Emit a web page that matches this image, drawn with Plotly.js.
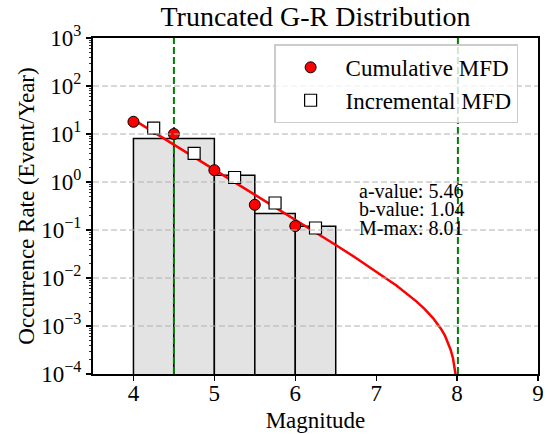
<!DOCTYPE html>
<html>
<head>
<meta charset="utf-8">
<script src="https://cdn.plot.ly/plotly-3.0.1.min.js"></script>
<style>html,body{margin:0;padding:0;background:#fff;}#chart{width:550px;height:434px;}</style>
</head>
<body>
<div id="chart"></div>
<script>
// ---- data ----
const binCenters = [4.25, 4.75, 5.25, 5.75, 6.25];
const binRates = [8.1, 8.1, 1.38, 0.22, 0.12];

const cumMag = [4.0, 4.5, 5.0, 5.5, 6.0];
const cumRate = [18.0, 10.0, 1.76, 0.335, 0.121];

const incMag = [4.25, 4.75, 5.25, 5.75, 6.25];
const incRate = [13.3, 3.95, 1.24, 0.365, 0.11];

const curveMag = [4.0, 4.25, 4.5, 4.75, 5.0, 5.25, 5.5, 5.75, 6.0, 6.25, 6.5, 6.75, 7.0, 7.25, 7.5, 7.6, 7.7, 7.8, 7.85, 7.9, 7.92, 7.95, 7.96, 7.98, 8.0];
const curveRate = [19.95, 10.96, 6.03, 3.31, 1.82, 1.0, 0.548, 0.301, 0.165, 0.090, 0.0488, 0.0262, 0.0138, 0.00697, 0.00322, 0.00225, 0.00148, 0.00088, 0.00063, 0.00041, 0.00032, 0.00021, 0.00017, 0.0001, 0.00003];

const magComplete = 4.5;
const magMax = 8.01;
const paramLabels = ["a-value: 5.46", "b-value: 1.04", "M-max: 8.01"];

const xRange = [3.5, 9];
const yDecades = [-4, 3];

// ---- figure ----
const FONT = "Liberation Serif";
const yLo = Math.pow(10, yDecades[0]), yHi = Math.pow(10, yDecades[1]);

// axis decoration: decade tick labels 10^n and minor ticks 2..9
const yTickVals = [], yTickText = [], yMinorVals = [];
for (let d = yDecades[0]; d <= yDecades[1]; d++) {
  yTickVals.push(Math.pow(10, d));
  yTickText.push("10<sup>" + (d < 0 ? "\u2212" + (-d) : d) + "</sup>");
  if (d < yDecades[1]) for (let k = 2; k <= 9; k++) yMinorVals.push(k * Math.pow(10, d));
}

const traces = [
  {type: "bar", x: binCenters, y: binRates, width: 0.5, showlegend: false,
   marker: {color: "#e3e3e3", line: {color: "#000", width: 1.5}}},
  {type: "scatter", mode: "lines", x: [magComplete, magComplete], y: [yLo, yHi], showlegend: false,
   line: {color: "#008000", width: 2, dash: "7px,3px"}, hoverinfo: "skip"},
  {type: "scatter", mode: "lines", x: [magMax, magMax], y: [yLo, yHi], showlegend: false,
   line: {color: "#008000", width: 2, dash: "7px,3px"}, hoverinfo: "skip"},
  {type: "scatter", mode: "lines", x: curveMag, y: curveRate, showlegend: false,
   line: {color: "#ff0000", width: 2.5}},
  {type: "scatter", mode: "markers", name: "Cumulative MFD", x: cumMag, y: cumRate,
   marker: {symbol: "circle", size: 11, color: "#ff0000", line: {color: "#000", width: 1}}},
  {type: "scatter", mode: "markers", name: "Incremental MFD", x: incMag, y: incRate,
   marker: {symbol: "square", size: 12, color: "#ffffff", line: {color: "#000", width: 1.2}}}
];

const shapes = [];
for (let d = yDecades[0] + 1; d < yDecades[1]; d++) {
  shapes.push({type: "line", layer: "above", xref: "paper", x0: 0, x1: 1, yref: "y",
    y0: Math.pow(10, d), y1: Math.pow(10, d), line: {color: "#b0b0b0", width: 1, dash: "6px,3px"}});
}

const annY = [0.5446, 0.4896, 0.4345];
const annotations = paramLabels.map((t, i) => ({
  text: t, xref: "paper", yref: "paper", x: 0.594, y: annY[i], xanchor: "left", yanchor: "middle",
  showarrow: false, font: {family: FONT, size: 20, color: "#000"}
}));

const layout = {
  width: 550, height: 434,
  margin: {l: 93, r: 12, t: 38, b: 60},
  paper_bgcolor: "#fff", plot_bgcolor: "#fff",
  font: {family: FONT, color: "#000"},
  bargap: 0,
  title: {text: "Truncated G-R Distribution", font: {family: FONT, size: 28, color: "#000"},
          xref: "paper", x: 0.5, xanchor: "center", yref: "container", y: 0.962, yanchor: "middle"},
  xaxis: {range: xRange, dtick: 1, tick0: 0, ticks: "outside", ticklen: 5, tickwidth: 1.2, tickcolor: "#000",
          ticklabelstandoff: -8,
          showline: true, mirror: true, linecolor: "#000", linewidth: 2, showgrid: false, zeroline: false,
          tickfont: {family: FONT, size: 23, color: "#000"},
          title: {text: "Magnitude", font: {family: FONT, size: 23, color: "#000"}, standoff: 7}},
  yaxis: {type: "log", range: yDecades, tickmode: "array", tickvals: yTickVals, ticktext: yTickText,
          ticks: "outside", ticklen: 5,
          tickwidth: 1.2, tickcolor: "#000", showline: true, mirror: true, linecolor: "#000", linewidth: 2,
          showgrid: false, zeroline: false,
          minor: {tickmode: "array", tickvals: yMinorVals, ticks: "outside", ticklen: 2.5, tickwidth: 0.8,
                  tickcolor: "#000", showgrid: false},
          tickfont: {family: FONT, size: 23, color: "#000"},
          title: {text: "Occurrence Rate (Event/Year)", font: {family: FONT, size: 23, color: "#000"}, standoff: 0}},
  legend: {x: 0.407, y: 0.981, xanchor: "left", yanchor: "top", bgcolor: "rgba(255,255,255,0.8)",
           bordercolor: "#cccccc", borderwidth: 1.5, font: {family: FONT, size: 23, color: "#000"},
           itemwidth: 60},
  shapes: shapes,
  annotations: annotations
};

Plotly.newPlot("chart", traces, layout, {displayModeBar: false, staticPlot: true});
</script>
</body>
</html>
